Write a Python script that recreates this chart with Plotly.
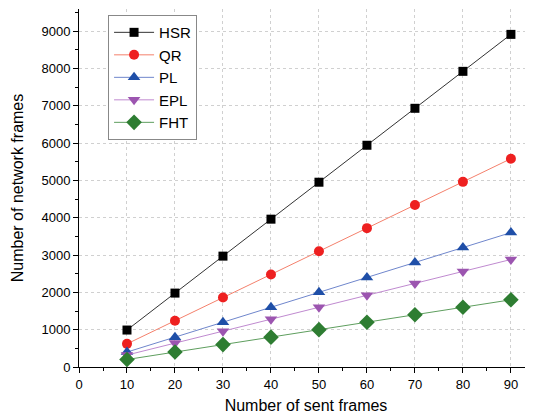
import plotly.graph_objects as go

sent = [10, 20, 30, 40, 50, 60, 70, 80, 90]
hsr = [990, 1980, 2970, 3960, 4950, 5940, 6930, 7920, 8910]
qr = [620, 1240, 1860, 2480, 3100, 3720, 4340, 4960, 5580]
pl = [400, 800, 1200, 1600, 2000, 2400, 2800, 3200, 3600]
epl = [320, 640, 960, 1280, 1600, 1920, 2240, 2560, 2880]
fht = [200, 400, 600, 800, 1000, 1200, 1400, 1600, 1800]

series = [
    ("HSR", hsr, "#333333", "#000000", "square", 9),
    ("QR", qr, "#f4806c", "#ee2020", "circle", 10),
    ("PL", pl, "#6f86cc", "#1f4fa8", "triangle-up", 11),
    ("EPL", epl, "#c08ad0", "#9c55b0", "triangle-down", 11),
    ("FHT", fht, "#5e9e5e", "#2e7d32", "diamond", 12),
]

fig = go.Figure()
for name, vals, lc, mc, sym, sz in series:
    fig.add_trace(go.Scatter(
        x=sent, y=vals, name=name, mode="lines+markers",
        line=dict(color=lc, width=1),
        marker=dict(color=mc, symbol=sym, size=sz, line=dict(width=0)),
    ))

font = "Liberation Sans, Arial, sans-serif"
# page body has an 8px default margin: figure is sized to fit the 533x416 window
fig.update_layout(
    width=525, height=408,
    margin=dict(l=71, r=0, t=1, b=49),
    paper_bgcolor="white", plot_bgcolor="white",
    font=dict(family=font, size=13, color="black"),
    showlegend=True,
    legend=dict(x=0.064, y=0.983, xanchor="left", yanchor="top",
                bordercolor="#888888", borderwidth=1, bgcolor="white",
                font=dict(size=15, family=font), tracegroupgap=0,
                itemwidth=40),
    xaxis=dict(
        range=[0, 94.6], tickmode="array", tickvals=list(range(0, 100, 10)),
        showline=True, linecolor="black", linewidth=1,
        ticks="outside", ticklen=5, tickcolor="black",
        minor=dict(ticks="outside", ticklen=3, dtick=5, tickcolor="black", showgrid=False),
        showgrid=True, gridcolor="#d0d0d0", griddash="dot", gridwidth=1,
        zeroline=False, automargin=False,
        title=dict(text="Number of sent frames", font=dict(size=16, family=font), standoff=9),
        tickfont=dict(size=13),
    ),
    yaxis=dict(
        range=[0, 9590], tickmode="array", tickvals=list(range(0, 10000, 1000)),
        showline=True, linecolor="black", linewidth=1,
        ticks="outside", ticklen=5, tickcolor="black",
        minor=dict(ticks="outside", ticklen=3, dtick=500, tickcolor="black", showgrid=False),
        showgrid=True, gridcolor="#d0d0d0", griddash="dot", gridwidth=1,
        zeroline=False, automargin=False,
        title=dict(text="Number of network frames", font=dict(size=16, family=font), standoff=13),
        tickfont=dict(size=13),
    ),
)

fig.write_html("out.html")
